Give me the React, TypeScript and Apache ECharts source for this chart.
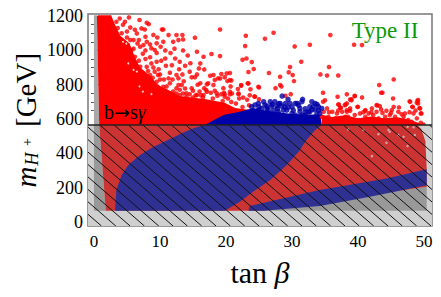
import React, { useEffect, useRef } from "react";
import * as echarts from "echarts";

const serif = "Liberation Serif";
const xRange = [-0.9, 51.2];
const yRange = [-23, 1212];
const cutValue = 565;
const xMajor = [0, 10, 20, 30, 40, 50];
const xMinor = [1,2,3,4,5,6,7,8,9,11,12,13,14,15,16,17,18,19,21,22,23,24,25,26,27,28,29,31,32,33,34,35,36,37,38,39,41,42,43,44,45,46,47,48,49,51];
const yMajor = [0, 200, 400, 600, 800, 1000, 1200];
const yMinor = [50,100,150,250,300,350,450,500,550,650,700,750,850,900,950,1050,1100,1150];

const stripUpper = [[0,1205],[0.45,1205],[0.8,565],[0,565]];
const redUpper = [[0.45,1195],[0.6,1204],[2.6,1204],[3.2,1150],[4,1085],[5.4,1040],[6.2,960],[7,900],[8.6,850],[9.6,800],[11,775],[13,735],[17,716],[19.8,695],[21.4,665],[25,645],[25,565],[0.8,565]];
const blueUpper = [[16.8,565],[19.1,613],[19.8,625],[22.1,642],[24.1,665],[26,650],[30,630],[34.3,625],[34.5,565]];
const redRight = [[34.5,565],[34.5,625],[36,612],[38,622],[40,605],[42,615],[44,605],[46,610],[48,595],[49.5,572],[49.8,565]];

const lightLower = [[-0.9,565],[51.2,565],[51.2,-23],[-0.9,-23]];
const greyLeft = [[0,565],[0.8,565],[1.8,66],[0,66]];
const greyRight = [[25.7,66],[50.4,205],[50.4,66]];
const redLower = [[0.8,565],[49,565],[49.6,540],[50.2,470],[50.4,310],[50.4,205],[25.7,66],[1.8,66]];
const blueMain = [[3.2,66],[3.4,186],[4.2,274],[5.2,332],[7,390],[8.7,431],[11.2,478],[13.8,526],[15.3,550],[16.8,565],[34.5,565],[33.5,536],[32.2,478],[31,409],[29.2,332],[26.7,245],[24.1,176],[22.1,118],[19.8,66]];
const blueBand = [[23.4,66],[23.6,93],[34.2,186],[44.3,254],[50.4,307],[50.4,215],[41.8,147],[34.2,93],[25.7,66]];

const redPoints = [
[19.1,1122],[23,1085],[22.9,1025],[27.2,1103],[25.9,1068],[30.4,1023],[32.7,1033],[35.8,1089],[39.4,1033],[40.6,1031],
[22.5,945],[23.1,953],[23.9,932],[31.4,934],[29.7,903],[35.6,903],[24.2,891],[23.4,874],[26.5,868],[29.5,872],[30.1,856],
[28.2,846],[30.3,821],[34.3,860],[35.3,854],[37,854],[45.4,831],[43.2,798],[43.5,753],[43.7,753],[45.3,720],[20.6,868],
[19.3,862],[19.8,843],[20.2,821],[20.8,825],[23.3,808],[22.3,794],[25,784],[23.7,773],[27.5,780],[28.2,798],[28.4,790],
[29.8,745],[29,736],[34.7,753],[36.9,730],[38.3,744],[39.5,736],[39,715],[40.6,726],[35,709],[37,685],[38.3,691],[38,681],
[40,671],[37.3,666],[47.8,703],[49.1,711],[48.9,695],[48.2,671],[49.3,664],[41.1,652],[42.1,662],[42.9,680],[45.4,671],
[46.2,668],[48.4,633],[49.6,633],[24.3,732],[21.9,745],[19.7,753],[20.6,759],[20.9,749],
[5.3,1192],[3.9,1186],[3.4,1167],[4.7,1167],[6.9,1177],[8,1161],[8.3,1153],[7.2,1128],[7.7,1122],[5.5,1134],[6.5,1099],
[10.3,1122],[10.5,1122],[11.3,1089],[12.5,1089],[13.4,1089],[13.5,1064],[12.8,1060],[15.3,1074],[12,1050],[15.6,992],
[10.5,1050],[10.1,1021],[9.5,1041],[8.7,1012],[9.2,1002],[8,1050],[7.5,1031],[17.8,979],[19.1,967],[16.1,924],[16.6,963],
[15.9,895],[16.7,889],[12.3,953],[13,934],[11.8,914],[10.8,953],[9.5,934],[8.7,924],[12.5,856],[12.8,837],[11.3,837],
[9.2,876],[9.7,856],[8,905],[14.8,843],[15.3,843],[14.5,876],[11.5,808],[12.5,779],[13.3,798],[14.8,779],[15.6,740],
[16.6,740],[17.3,808],[17,769],[18.1,798],[18.8,837],[18.1,856],[18.6,750],[16.1,808],[9.5,817],[10.5,788],[11.5,750],
[14,750],[13,740],[8.5,856],[7,905],[6.2,963],[5.7,1002],[7,1021],
[12.5,749],[13.5,749],[14.5,745],[15.4,739],[16.2,739],[17.1,759],[17.7,753],[18.3,765],[19.3,745],[19.8,745],[20.6,745],
[21.9,749],[23.6,739],[24.4,730],[13.8,778],[12.8,798],[17.1,803],[18.3,827],[19.1,836],[20.1,866],[20.6,827],[17.6,852],
[22.3,798],[23.4,807],[24.9,788],
[3.6,1130],[4.2,1100],[5,1110],[4.4,1150],[6,1060],[6.6,1040],[6,1010],[7.4,980],[6.8,940],[7.8,950],[8.2,880],[9,900],[8.9,840],[10,860],[10.6,830],[9.6,790],[11,790],[12,760],[13,770],[14,730],[15,725],[16.5,725],[18,720],[19.5,705],[20.8,700],[21.5,690],[22.5,670],[23.5,680],[20.3,720],[22,720],[18.7,735],
[5.5,1060],[6.8,1060],[7.8,1080],[9,1090],[9.6,1075],[6.2,1120],[5,1075],[8.5,1035],[9.5,985],[10.8,1000],[11.6,985],[7.8,1000],[8.5,960],[9.8,890],[10.9,910],[11.5,870],[12.9,890],[13.8,910],[14.6,925],[14.2,970],[13.5,1000],[12.2,1010],[10.2,940],[9.1,800],[8,825],[10,830],[11.9,830],[13.6,820],[15.7,800],[16.7,780],[15.6,860],[13.4,860],[19.6,780],[20.7,790],[21.8,775],[15,765],[16,760],[19.8,730],[22.6,725],[23.2,712],[25,715],
[39.5,733],[39,710],[39.9,671],[38.3,642],[38.8,648],[41.1,648],[42.8,681],[43.3,675],[43.5,656],[47.9,701],[49,706],
[49.1,691],[48.3,671],[49.4,662],[45.1,652],[44.3,648],[44.8,623],[46.1,642],[47.1,633],[49.5,633],[42.8,642],[42.3,623],
[41.6,633],[40.3,633],[39.5,623],[38.5,613],[41.1,613],[43.1,604],[44.1,613],[45.6,613],[46.9,613],[47.6,594],[48.9,604],
[49.5,578],[49.9,568],[48.1,584],[41.8,584],[40.1,594],[39,584],[43.6,584],[45.1,584],[46.3,590],[47.4,574],
[34.8,642],[35.3,662],[36.1,642],[36.8,633],[37.6,642],[38.3,652],[38.8,662],[34.5,613],[35.5,613],[36.6,604],[37.3,594],
[38.1,613],[35.1,584],[36.1,584],[37.1,574],[38.1,584],[38.8,594],[34.7,701],[37.1,685],[37.4,666],[38.1,685],[38.8,714],
[35.6,640],[37,650],[40.8,640],[42,640],[43.7,635],[45,635],[46.6,628],[47.8,640],[48.7,650],
];
const bluePoints = [
[28.5,734],[29.4,715],[29.7,691],[30.5,691],[31.6,715],[31.5,701],[30.8,691],[31.2,662],[25.7,701],[25.9,682],[26.7,701],
[27.4,701],[27.7,676],[28.2,691],[29,691],[24.9,691],[24.4,682],[23.9,672],[33,701],[33.5,691],[33.2,672],[34,672],
[34.5,662],[32.7,672],[32.5,643],[30,633],[30.5,623],[29.2,652],[28.7,652],[27.2,652],[27.9,643],[26.4,652],[25.4,662],
[34.2,633],[33.7,623],[32,623],[31.5,623],[31.1,604],[29.7,604],[31.2,643],[29.4,668],[26.9,676],[24.9,652],[26.2,676],
[28.4,676],[32.7,643],[33.5,652],[28.2,623],[26.7,623],[25.7,623],
[25,670],[26.2,660],[27.8,660],[28.9,670],[30,670],[31,680],[32,660],[33,655],[34,650],[30.2,650],[32,640],[28,690],[27,685],[33.8,685],
];
const whiteGaps = [[4.4,1050],[4.9,1040],[6,886],[6.5,876],[5.2,924],[6.9,790],[7.4,760],[8.7,745]];
const greyGaps = [[38.5,540],[40.8,536],[43.1,512],[44.6,536],[46.1,507],[44.3,462],[47.5,443],[42.1,384],[48.6,507],[46.9,497],[44.8,526],[47.5,555],[48.4,552]];
const hatchStarts = [-18.63,-16.46,-14.29,-12.12,-9.95,-7.78,-5.61,-3.44,-1.27,0.9,3.07,5.24,7.41,9.58,11.75,13.92,16.09,18.26,20.43,22.6,24.77,26.94,29.11,31.28,33.45,35.62,37.79,39.96,42.13,44.3,46.47,48.64,50.81];
const hatchRun = 17.6;

function polygons(items: { pts: number[][]; fill: string }[], z: number) {
  return {
    type: "custom", coordinateSystem: "cartesian2d", clip: true, z, silent: true,
    data: items.map((_, i) => [i]),
    renderItem: (params: any, api: any) => {
      const it = items[params.dataIndex];
      return { type: "polygon", shape: { points: it.pts.map((p) => api.coord(p)) }, style: { fill: it.fill } };
    },
  };
}
function dots(data: number[][], color: string, size: number, z: number) {
  return { type: "scatter", data, symbolSize: size, itemStyle: { color }, z, silent: true };
}
function rot(text: string, x: number, y: number, size: number, style: string) {
  return {
    type: "text", x, y, rotation: Math.PI / 2,
    style: { text, font: `${style} ${size}px "${serif}"`, fill: "#000", align: "center", verticalAlign: "middle" },
    z: 20,
  };
}

export default function App() {
  const ref = useRef<HTMLDivElement>(null);
  useEffect(() => {
    const chart = echarts.init(ref.current!, null, { renderer: "svg" });
    const tickAxis = (values: number[], len: number, labels: boolean, extent: number[], margin: number, size: number) => ({
      type: "value", min: extent[0], max: extent[1], splitLine: { show: false },
      axisLine: { show: false },
      axisTick: { show: true, inside: true, length: len, customValues: values, lineStyle: { color: "#555", width: 1 } },
      axisLabel: labels
        ? { show: true, customValues: values, margin, color: "#000", fontFamily: serif, fontSize: size, formatter: (v: number) => String(v) }
        : { show: false },
    });
    chart.setOption({
      animation: false,
      grid: { left: 88, right: 9, top: 14, bottom: 71, outerBoundsMode: "none", show: true, borderColor: "#777", borderWidth: 1.5, backgroundColor: "#fff", z: 0 },
      xAxis: [
        { ...tickAxis(xMajor, 6, true, xRange, 7, 17), name: "{a|tan }{b|β}", nameLocation: "middle", nameGap: 31, nameTextStyle: { rich: { a: { fontFamily: serif, fontSize: 30, color: "#000" }, b: { fontFamily: serif, fontSize: 30, fontStyle: "italic", color: "#000" } } } },
        tickAxis(xMinor, 3, false, xRange, 7, 17),
      ],
      yAxis: [tickAxis(yMajor, 6, true, yRange, 5, 18), tickAxis(yMinor, 3, false, yRange, 5, 18)],
      graphic: [
        rot("[GeV]", 26, 90, 29, "normal"),
        rot("m", 26, 177, 29, "italic"),
        rot("H", 32, 159, 18, "italic"),
        rot("+", 27, 142, 14, "normal"),
        { type: "text", x: 104, y: 112, style: { text: "{a|b}{c|→}{a|s}{b|γ}", rich: { a: { fontFamily: serif, fontSize: 20, fill: "#000", color: "#000" }, c: { fontFamily: "DejaVu Sans", fontSize: 19, fill: "#000", color: "#000" }, b: { fontFamily: serif, fontSize: 20, fontStyle: "italic", fill: "#000", color: "#000" } }, verticalAlign: "middle" }, z: 20 },
        { type: "text", x: 385, y: 30, style: { text: "Type II", font: `23px "${serif}"`, fill: "#0a9a0a", align: "center", verticalAlign: "middle" }, z: 20 },
      ],
      series: [
        polygons([{ pts: stripUpper, fill: "#a8a8a8" }, { pts: redUpper, fill: "#ff0000" }, { pts: redRight, fill: "#ff0000" }, { pts: blueUpper, fill: "#0000a8" }], 1),
        dots(redPoints, "#ff0000", 4.6, 2),
        dots(whiteGaps, "#ffffff", 2, 3),
        dots(bluePoints, "#0000a8", 5.5, 4),
        polygons([
          { pts: lightLower, fill: "#cfcfcf" }, { pts: greyLeft, fill: "#999999" }, { pts: greyRight, fill: "#999999" },
          { pts: redLower, fill: "#cc3333" }, { pts: blueMain, fill: "#2e3192" }, { pts: blueBand, fill: "#2e3192" },
        ], 5),
        dots(greyGaps, "#d8c0c0", 2.5, 6),
        {
          type: "custom", coordinateSystem: "cartesian2d", clip: true, z: 7, silent: true,
          data: hatchStarts.map((x) => [x]),
          renderItem: (params: any, api: any) => {
            const x0 = hatchStarts[params.dataIndex];
            const a = api.coord([x0, cutValue]);
            const b = api.coord([x0 + hatchRun, yRange[0]]);
            return { type: "line", shape: { x1: a[0], y1: a[1], x2: b[0], y2: b[1] }, style: { stroke: "#111", lineWidth: 1 } };
          },
        },
        { type: "line", data: [[xRange[0], cutValue], [xRange[1], cutValue]], symbol: "none", lineStyle: { color: "#222", width: 1.5 }, z: 8, silent: true },
      ],
    });
    return () => chart.dispose();
  }, []);
  return <div ref={ref} style={{ position: "absolute", left: 0, top: 0, width: 441, height: 297 }} />;
}
